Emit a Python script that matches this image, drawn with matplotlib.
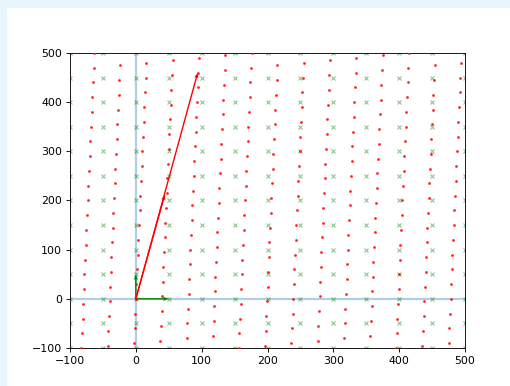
import numpy as np
import matplotlib
matplotlib.use("Agg")
import matplotlib.pyplot as plt
from matplotlib.patches import Rectangle

grid_ticks = list(range(-300, 1001, 50))
transform = [[0.8, 0.02],
             [0.1, 0.6]]

# basis arrows (green) and the two red arrows
basis_u = [50, 0]
basis_v = [0, 50]
red_arrow_x = [94, 44]
red_arrow_y = [460, 212]

xlim = (-100, 500)
ylim = (-100, 500)

dpi = 510 / 6.4
fig = plt.figure(figsize=(6.4, 386 / dpi), dpi=dpi)

# light blue frame at top and left of the picture
frame = "#e8f5fb"
fig.patches.append(Rectangle((0, 1 - 7 / 386), 1, 7 / 386, transform=fig.transFigure,
                             color=frame, zorder=-10))
fig.patches.append(Rectangle((0, 0), 6 / 510, 1, transform=fig.transFigure,
                             color=frame, zorder=-10))

ax = fig.add_axes([70 / 510, 38 / 386, 395 / 510, 295 / 386])

gx, gy = np.meshgrid(grid_ticks, grid_ticks)
pts = np.vstack([gx.ravel(), gy.ravel()])
moved = np.array(transform) @ pts

ax.axhline(0, color="tab:blue", alpha=0.35, lw=2, zorder=1)
ax.axvline(0, color="tab:blue", alpha=0.35, lw=2, zorder=1)

ax.plot(pts[0], pts[1], "x", color="g", alpha=0.45, ms=3, mew=1, zorder=2)
ax.plot(moved[0], moved[1], ".", color="red", alpha=0.7, ms=3.2, zorder=3)

ax.quiver([0, 0], [0, 0], [basis_u[0], basis_v[0]], [basis_u[1], basis_v[1]],
          color="green", angles="xy", scale_units="xy", scale=1,
          width=0.0035, headwidth=3, headlength=4, headaxislength=3.5, zorder=4)
ax.quiver([0, 0], [0, 0], red_arrow_x, red_arrow_y,
          color="red", angles="xy", scale_units="xy", scale=1,
          width=0.0035, headwidth=3, headlength=4, headaxislength=3.5, zorder=4)

ax.set_xlim(*xlim)
ax.set_ylim(*ylim)

fig.savefig("out.png", dpi=dpi)
